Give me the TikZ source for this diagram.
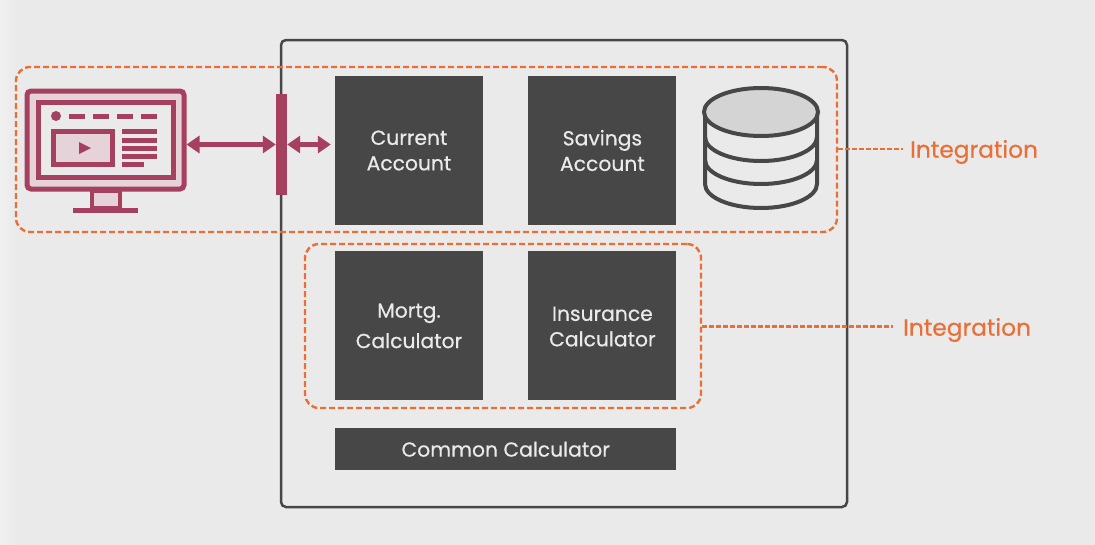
\documentclass[tikz,border=0pt]{standalone}
\usepackage{fontspec}
\setmainfont{Poppins}[FakeBold=0.5]
\usepackage{xcolor}
\usetikzlibrary{positioning,arrows.meta,shapes.geometric}
\definecolor{paper}{HTML}{EAEAEA}
\definecolor{strip}{HTML}{F1F1F1}
\definecolor{slate}{HTML}{474747}
\definecolor{wine}{HTML}{A5415F}
\definecolor{blush}{HTML}{E5D3D9}
\definecolor{tangerine}{HTML}{E96F37}
\definecolor{dbgrey}{HTML}{D4D4D4}
\tikzset{
  acct/.style={rectangle,fill=slate,text=paper,align=center,inner sep=0pt,
    minimum width=148pt,minimum height=149pt,font=\fontsize{20.3}{25.5}\selectfont},
  wide/.style={acct,minimum width=341pt,minimum height=42pt},
  group/.style={draw=tangerine,line width=2.4pt,dash pattern=on 6pt off 3pt,rounded corners=14pt},
  tie/.style={draw=tangerine,line width=2.4pt,dash pattern=on 5pt off 2pt},
  intlabel/.style={text=tangerine,inner sep=0pt,font=\fontsize{23.3}{26}\selectfont},
  link/.style={{Triangle[length=13pt,width=17pt]}-{Triangle[length=13pt,width=17pt]},draw=wine,line width=4.5pt},
  ico/.style={draw=wine,line width=5pt},
  dbline/.style={draw=slate,line width=4pt},
}
\begin{document}
\begin{tikzpicture}[x=1pt,y=-1pt]
  \useasboundingbox (0,0) rectangle (1095,544);
  \fill[paper] (-1,-1) rectangle (1096,545);
  \shade[left color=strip,right color=paper] (-1,-1) rectangle (16,545);
  % application box
  \node[draw=slate,line width=2.5pt,rounded corners=5pt,minimum width=566pt,minimum height=467pt,inner sep=0pt] (app) at (564,273.5) {};
  % modules
  \node[acct] (current) at (409,150.5) {Current\\Account};
  \node[acct,right=45pt of current] (savings) {Savings\\Account};
  \node[acct,below=26pt of current] (mortg) {Mortg.\\[5pt]Calculator};
  \node[acct,below=26pt of savings,text height=41pt] (insur) {Insurance\\Calculator};
  \node[wide,anchor=north west] (common) at (335,428) {Common Calculator};
  % database
  \draw[dbline] (705,112) -- (705,184) arc[start angle=180,end angle=0,x radius=56pt,y radius=-24pt] -- (817,112);
  \draw[dbline] (705,137) arc[start angle=180,end angle=0,x radius=56pt,y radius=-24pt];
  \draw[dbline] (705,160) arc[start angle=180,end angle=0,x radius=56pt,y radius=-24pt];
  \node[ellipse,dbline,fill=dbgrey,minimum width=114pt,minimum height=48pt,inner sep=0pt] (db) at (761,112) {};
  % screen
  \node[ico,fill=blush,rounded corners=4pt,minimum width=157pt,minimum height=98pt,inner sep=0pt] (monitor) at (105.5,140) {};
  \node[ico,fill=paper,minimum width=135pt,minimum height=75pt,inner sep=0pt] (screen) at (105.5,140) {};
  \fill[wine] (56,116) circle (5pt);
  \foreach \x in {69,93,117,141} \fill[wine] (\x,113.5) rectangle +(16,5);
  \node[ico,fill=blush,minimum width=59pt,minimum height=33pt,inner sep=0pt] (video) at (83,148) {};
  \fill[wine] (79,142) -- (91,148) -- (79,154) -- cycle;
  \foreach \y in {131,140,148,156} \fill[wine] (122,\y-2.5) rectangle (157,\y+2.5);
  \fill[wine] (122,161.5) rectangle (144,166.5);
  \draw[wine,fill=blush,line width=4pt] (92,191) rectangle (120,208);
  \fill[wine] (73,208) rectangle (138,213);
  % gateway
  \node[fill=wine,minimum width=11pt,minimum height=101pt,inner sep=0pt] (bar) at (281.5,144.5) {};
  \draw[link] (monitor.east |- bar.west) -- (bar.west);
  \draw[link,shorten >=4pt] (bar.east) -- (bar.east -| current.west);
  % integration groups
  \node[group,minimum width=821pt,minimum height=165pt,inner sep=0pt] (top) at (426.5,149.5) {};
  \node[group,minimum width=396pt,minimum height=164pt,inner sep=0pt] (bottom) at (503,326) {};
  \node[intlabel,anchor=west] (inta) at (910,152) {Integration};
  \node[intlabel,anchor=west] (intb) at (903,330) {Integration};
  \coordinate (tiea) at (903,149);
  \coordinate (tieb) at (893,326.5);
  \draw[tie] (top.east |- tiea) -- (tiea);
  \draw[tie] (bottom.east |- tieb) -- (tieb);
\end{tikzpicture}
\end{document}
